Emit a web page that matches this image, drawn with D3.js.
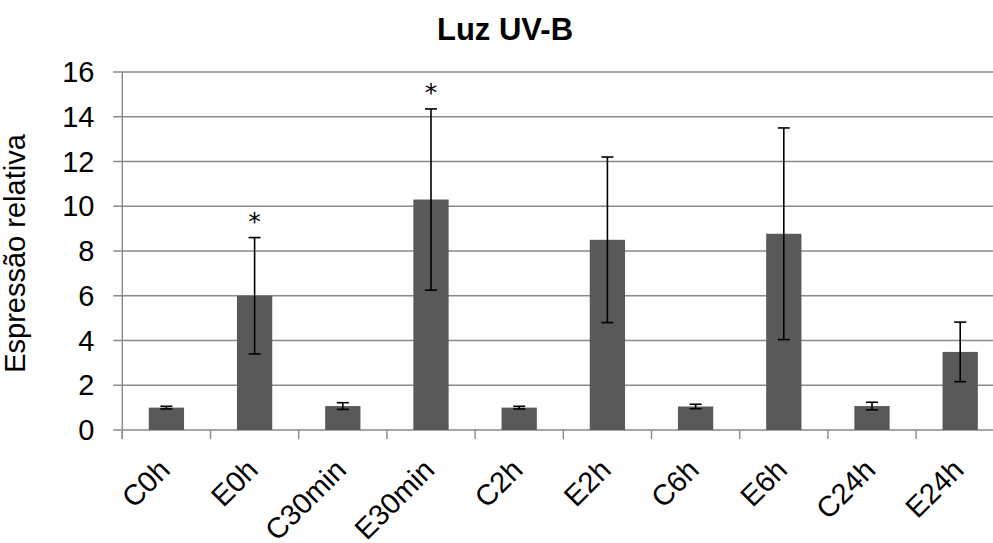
<!DOCTYPE html>
<html>
<head>
<meta charset="utf-8">
<script src="https://cdn.jsdelivr.net/npm/d3@7"></script>
<style>
  html, body { margin: 0; padding: 0; background: #fff; overflow: hidden; }
  text { font-family: "Liberation Sans", Arial, sans-serif; }
</style>
</head>
<body>
<svg id="chart" width="993" height="543"></svg>
<script>
// Relative expression under UV-B light, mean ± error per sample
const categories = ["C0h", "E0h", "C30min", "E30min", "C2h", "E2h", "C6h", "E6h", "C24h", "E24h"];
const means  = [1.0, 6.0, 1.07, 10.3, 1.0, 8.5, 1.05, 8.77, 1.07, 3.49];
const errors = [0.06, 2.6, 0.15, 4.05, 0.06, 3.7, 0.1, 4.73, 0.17, 1.33];
const significant = [false, true, false, true, false, false, false, false, false, false];
const yTicks = [0, 2, 4, 6, 8, 10, 12, 14, 16];
const title = "Luz UV-B";
const yLabel = "Espressão relativa";

const svg = d3.select("#chart");
const plotLeft = 122.3, plotRight = 1004.3, plotTop = 72, plotBottom = 430;

const x = d3.scaleBand().domain(categories).range([plotLeft, plotRight])
  .paddingInner(0.6).paddingOuter(0.3);
const y = d3.scaleLinear().domain([0, 16]).range([plotBottom, plotTop]);
const step = x.step();

const gridColor = "#898989";

// horizontal gridlines with outer tick marks
svg.append("g").selectAll("line").data(yTicks).join("line")
  .attr("x1", plotLeft - 9).attr("x2", 993)
  .attr("y1", d => y(d)).attr("y2", d => y(d))
  .attr("stroke", gridColor).attr("stroke-width", 1.4);

// y-axis line
svg.append("line")
  .attr("x1", plotLeft).attr("x2", plotLeft)
  .attr("y1", plotTop).attr("y2", plotBottom + 9)
  .attr("stroke", gridColor).attr("stroke-width", 1.4);

// x tick marks at category boundaries
const boundaries = categories.map((c, i) => plotLeft + i * step).concat([plotRight]);
svg.append("g").selectAll("line").data(boundaries).join("line")
  .attr("x1", d => d).attr("x2", d => d)
  .attr("y1", plotBottom).attr("y2", plotBottom + 9)
  .attr("stroke", gridColor).attr("stroke-width", 1.4);

// y tick labels
svg.append("g").selectAll("text").data(yTicks).join("text")
  .attr("x", 94.5).attr("y", d => y(d)).attr("dy", "0.35em")
  .attr("text-anchor", "end")
  .attr("font-size", 29).attr("fill", "#000")
  .text(d => d);

// bars
svg.append("g").selectAll("rect").data(categories).join("rect")
  .attr("x", d => x(d)).attr("width", x.bandwidth())
  .attr("y", (d, i) => y(means[i]))
  .attr("height", (d, i) => y(0) - y(means[i]))
  .attr("fill", "#595959");

// error bars
const eb = svg.append("g").attr("stroke", "#000").attr("stroke-width", 1.6);
categories.forEach((c, i) => {
  const cx = x(c) + x.bandwidth() / 2;
  const hi = y(means[i] + errors[i]), lo = y(means[i] - errors[i]);
  eb.append("line").attr("x1", cx).attr("x2", cx).attr("y1", hi).attr("y2", lo);
  eb.append("line").attr("x1", cx - 6).attr("x2", cx + 6).attr("y1", hi).attr("y2", hi);
  eb.append("line").attr("x1", cx - 6).attr("x2", cx + 6).attr("y1", lo).attr("y2", lo);
});

// significance markers
svg.append("g").selectAll("text").data(categories.filter((c, i) => significant[i])).join("text")
  .attr("x", d => x(d) + x.bandwidth() / 2)
  .attr("y", d => { const i = categories.indexOf(d); return y(means[i] + errors[i]) - 8; })
  .attr("text-anchor", "middle").attr("font-size", 25).attr("fill", "#000")
  .style("font-family", "'DejaVu Sans', sans-serif")
  .text("*");

// rotated category labels, right end placed just below each bar
svg.append("g").selectAll("text").data(categories).join("text")
  .attr("transform", d => `translate(${x(d) + x.bandwidth() / 2 - 2},${plotBottom + 34.5}) rotate(-45)`)
  .attr("text-anchor", "end").attr("dy", "0.35em")
  .attr("font-size", 29).attr("fill", "#000")
  .text(d => d);

// title
svg.append("text")
  .attr("x", 505).attr("y", 40)
  .attr("text-anchor", "middle").attr("font-size", 31).attr("font-weight", "bold")
  .attr("fill", "#000").text(title);

// y-axis title
svg.append("text")
  .attr("transform", "translate(25,253.5) rotate(-90)")
  .attr("text-anchor", "middle").attr("font-size", 29).attr("fill", "#000")
  .text(yLabel);
</script>
</body>
</html>
